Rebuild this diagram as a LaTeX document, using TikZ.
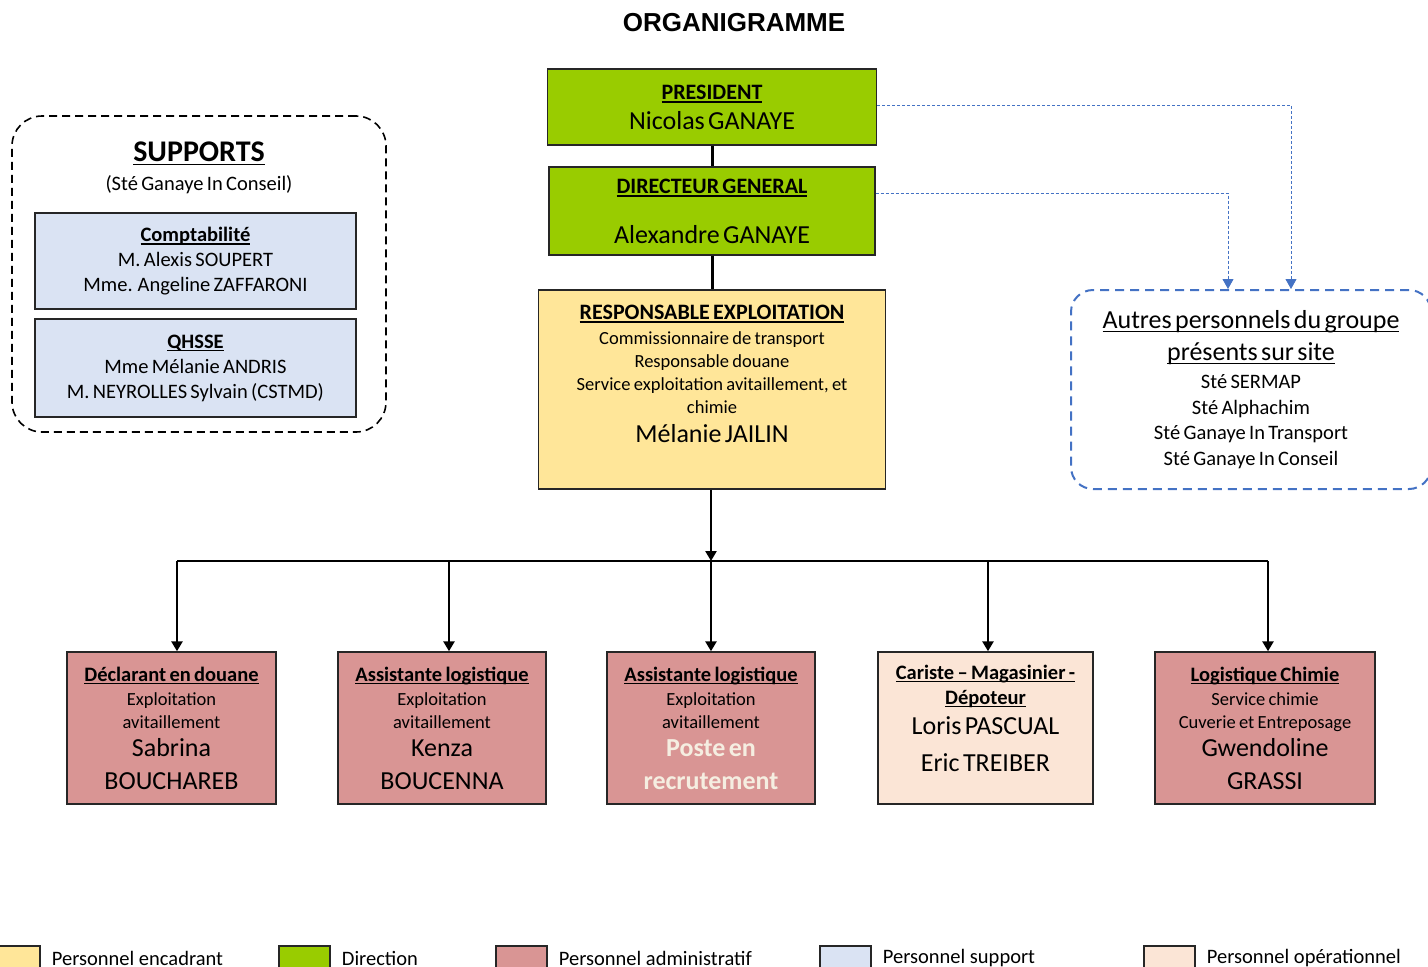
\documentclass[tikz,border=0pt]{standalone}
\usepackage{fontspec}
\setmainfont{Carlito}
\newfontfamily\titlefont{Liberation Sans}
\usetikzlibrary{arrows.meta,positioning}
\definecolor{mygreen}{RGB}{153,204,0}
\definecolor{myyellow}{RGB}{255,230,153}
\definecolor{mypink}{RGB}{217,149,148}
\definecolor{mysupblue}{RGB}{218,227,243}
\definecolor{mypeach}{RGB}{251,229,214}
\definecolor{mylinkblue}{RGB}{68,114,196}
\definecolor{myrecruit}{RGB}{245,238,225}
\newcommand{\setfs}[2]{\fontsize{#1}{#2}\selectfont}
\newcommand{\uln}[1]{\leavevmode\setbox0\hbox{#1}%
  \rlap{\vrule height -0.09em depth \dimexpr0.09em+1.4pt\relax width \wd0}\box0}

\begin{document}
\begin{tikzpicture}[x=1pt,y=-1pt,
    every node/.style={inner sep=0pt},
    box/.style={draw=black!85,line width=1.4pt,align=center},
    dirnode/.style={box,fill=mygreen},
    encnode/.style={box,fill=myyellow},
    admnode/.style={box,fill=mypink,minimum height=152pt},
    opnode/.style={box,fill=mypeach,minimum height=152pt},
    supnode/.style={box,fill=mysupblue,minimum width=321pt,text width=311pt},
    solidarrow/.style={line width=2.8pt,-{Triangle[width=11pt,length=10pt]}},
    dasharrow/.style={mylinkblue,line width=0.9pt,dash pattern=on 3pt off 2pt,-{Triangle[width=11pt,length=10pt]}},
    legbox/.style={draw=black!85,line width=1.4pt,minimum width=51pt,minimum height=24pt},
    legtext/.style={font=\setfs{20.5}{24}}
  ]
  \clip (0,0) rectangle (1428,967);

  % the title
  \node[font=\titlefont\bfseries\setfs{26}{30}] (title) at (734,23) {ORGANIGRAMME};

  % the direction
  \node[dirnode,minimum width=329pt,minimum height=76pt,text width=319pt] (pres) at (712,107)
    {\setfs{22}{26}\textbf{\uln{PRESIDENT}}\\
     \setfs{26}{30}Nicolas GANAYE\par};
  \node[dirnode,minimum width=326pt,minimum height=88pt,text width=316pt] (dg) at (712,211)
    {\setfs{22}{26}\textbf{\uln{DIRECTEUR GENERAL}}\\
     \setfs{26}{50}Alexandre GANAYE\par};
  \node[encnode,minimum width=347pt,minimum height=199pt,text width=337pt] (resp) at (712,389.5)
    {\setfs{22}{26}\textbf{\uln{RESPONSABLE EXPLOITATION}}\\
     \setfs{18.5}{25}Commissionnaire de transport\\
     \setfs{18.5}{23}Responsable douane\\
     Service exploitation avitaillement, et\\
     chimie\\
     \setfs{26}{29}Mélanie JAILIN\\
     \setfs{10}{32}\mbox{}\par};

  % the supports
  \node[draw,line width=1.6pt,dash pattern=on 8pt off 5pt,rounded corners=30pt,
    minimum width=374pt,minimum height=316pt] (supports) at (199,274) {};
  \node[text width=360pt,align=center] (suphead) at (199,167.5)
    {\setfs{30}{34}\textbf{\uln{SUPPORTS}}\\
     \setfs{20.5}{29}(Sté Ganaye In Conseil)\par};
  \node[supnode,minimum height=96pt] (compta) at (195.5,261)
    {\setfs{20.5}{25}\textbf{\uln{Comptabilité}}\\
     M. Alexis SOUPERT\\
     Mme. Angeline ZAFFARONI\par};
  \node[supnode,minimum height=98pt] (qhsse) at (195.5,368)
    {\setfs{20.5}{25}\textbf{\uln{QHSSE}}\\
     Mme Mélanie ANDRIS\\
     M. NEYROLLES Sylvain (CSTMD)\par};

  % the other companies
  \node[draw=mylinkblue,line width=2pt,dash pattern=on 9pt off 6pt,rounded corners=22pt,
    minimum width=360pt,minimum height=199pt,text width=350pt,align=center] (autres) at (1251,389.5)
    {\setfs{26}{30}\uln{Autres personnels du groupe}\\
     \setfs{26}{32}\uln{présents sur site}\\
     \setfs{20.5}{28}Sté SERMAP\\
     \setfs{20.5}{26}Sté Alphachim\\
     \setfs{20.5}{25}Sté Ganaye In Transport\\
     \setfs{20.5}{26}Sté Ganaye In Conseil\par};

  % the staff
  \node[admnode,minimum width=209pt,text width=199pt] (decl) at (171.5,728)
    {\setfs{20.5}{24}\textbf{\uln{Déclarant en douane}}\\
     \setfs{18.5}{24}Exploitation\\
     \setfs{18.5}{23}avitaillement\\
     \setfs{26}{28}Sabrina\\
     \setfs{26}{33}BOUCHAREB\par};
  \node[admnode,minimum width=208pt,text width=198pt] (assist) at (442,728)
    {\setfs{20.5}{24}\textbf{\uln{Assistante logistique}}\\
     \setfs{18.5}{24}Exploitation\\
     \setfs{18.5}{23}avitaillement\\
     \setfs{26}{28}Kenza\\
     \setfs{26}{33}BOUCENNA\par};
  \node[admnode,minimum width=208pt,text width=198pt] (recrut) at (711,728)
    {\setfs{20.5}{24}\textbf{\uln{Assistante logistique}}\\
     \setfs{18.5}{24}Exploitation\\
     \setfs{18.5}{23}avitaillement\\
     \setfs{26}{28}\textcolor{myrecruit}{\textbf{Poste en}}\\
     \setfs{26}{33}\textcolor{myrecruit}{\textbf{recrutement}}\par};
  \node[opnode,minimum width=215pt,text width=205pt] (cariste) at (985.5,728)
    {\setfs{20.5}{24}\textbf{\uln{Cariste – Magasinier -}}\\
     \setfs{20.5}{25}\textbf{\uln{Dépoteur}}\\
     \setfs{26}{30}Loris PASCUAL\\
     \setfs{26}{37}Eric TREIBER\\
     \setfs{10}{20}\mbox{}\par};
  \node[admnode,minimum width=220pt,text width=210pt] (chimie) at (1265,728)
    {\setfs{20.5}{24}\textbf{\uln{Logistique Chimie}}\\
     \setfs{18.5}{24}Service chimie\\
     \setfs{18.5}{23}Cuverie et Entreposage\\
     \setfs{26}{28}Gwendoline\\
     \setfs{26}{33}GRASSI\par};

  % the bus
  \coordinate (bus1) at (177,561);
  \coordinate (bus2) at (449,561);
  \coordinate (bus3) at (711,561);
  \coordinate (bus4) at (988,561);
  \coordinate (bus5) at (1268,561);

  % the edges
  \draw[line width=3pt] (pres) -- (dg);
  \draw[line width=3pt] (dg) -- (resp);
  \draw[solidarrow] (resp.south -| bus3) -- (bus3);
  \draw[line width=2.8pt] (bus1) -- (bus5);
  \foreach \b/\n in {1/decl,2/assist,3/recrut,4/cariste,5/chimie}
    \draw[solidarrow] (bus\b) -- (bus\b |- \n.north);

  % the links to the group
  \draw[dasharrow] ([yshift=2pt]pres.east) -| ([xshift=40pt]autres.north);
  \draw[dasharrow] ([yshift=18pt]dg.east) -| ([xshift=-23pt]autres.north);

  % the legend
  \foreach \i/\c/\x/\t in {1/myyellow/14.5/Personnel encadrant,
                          2/mygreen/304.5/Direction,
                          3/mypink/521.5/Personnel administratif,
                          4/mysupblue/845.5/Personnel support,
                          5/mypeach/1169.5/Personnel opérationnel}{
    \node[legbox,fill=\c] (leg\i) at (\x,958) {};
    \node[legtext,right=11pt of leg\i] (legt\i) {\t};
  }
\end{tikzpicture}
\end{document}
